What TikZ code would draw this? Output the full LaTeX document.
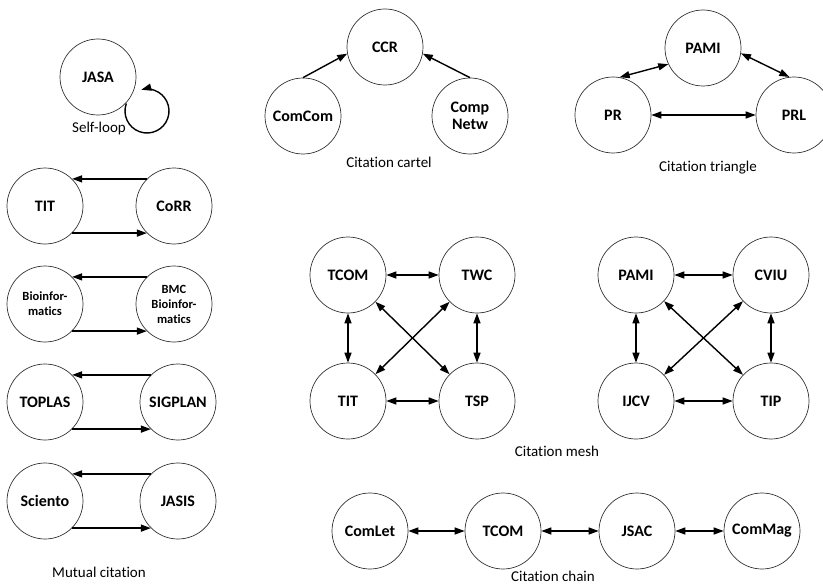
\documentclass[tikz,border=0pt]{standalone}
\usepackage{fontspec}
\setmainfont[Ligatures=NoCommon]{Carlito}
\usetikzlibrary{arrows.meta}
\begin{document}
\begin{tikzpicture}[x=1pt,y=-1pt,
 jnode/.style={circle,draw=black!80,line width=0.7pt,minimum size=76pt,inner sep=0pt,font=\bfseries\fontsize{16}{17}\selectfont,align=center},
 smalltext/.style={font=\bfseries\fontsize{12.5}{15}\selectfont},
 caption/.style={font=\fontsize{15}{16}\selectfont,inner sep=0pt},
 arr/.style={line width=1.4pt,-{Triangle[length=10pt,width=7pt]}},
 biarr/.style={line width=1.4pt,{Triangle[length=10pt,width=7pt]}-{Triangle[length=10pt,width=7pt]}}]
\useasboundingbox (0,0) rectangle (823,586);
\fill[white] (0,0) rectangle (823,586);

% Self-loop
\node[jnode] (jasa) at (98,77) {JASA};
\coordinate (loopc) at (147,111);
\draw[arr] (loopc) ++(160:22pt) arc[start angle=160, end angle=465, radius=22pt];
\node[caption] (lself) at (99,129) {Self-loop};

% Mutual citation
\node[jnode] (tit1) at (45,206) {TIT};
\node[jnode] (corr) at (174,206) {CoRR};
\draw[arr] (corr.135) -- (tit1.45);
\draw[arr] (tit1.-45) -- (corr.-135);

\node[jnode,smalltext] (bio) at (45,304) {Bioinfor-\\matics};
\node[jnode,smalltext] (bmc) at (174,304) {BMC\\Bioinfor-\\matics};
\draw[arr] (bmc.135) -- (bio.45);
\draw[arr] (bio.-45) -- (bmc.-135);

\node[jnode] (toplas) at (45,402) {TOPLAS};
\node[jnode] (sigplan) at (178,402) {SIGPLAN};
\draw[arr] (sigplan.135) -- (toplas.45);
\draw[arr] (toplas.-45) -- (sigplan.-135);

\node[jnode] (sciento) at (45,501) {Sciento};
\node[jnode] (jasis) at (178,501) {JASIS};
\draw[arr] (jasis.135) -- (sciento.45);
\draw[arr] (sciento.-45) -- (jasis.-135);
\node[caption] (lmutual) at (99,572) {Mutual citation};

% Citation cartel
\node[jnode] (ccr) at (385,47) {CCR};
\node[jnode] (comcom) at (303,116) {ComCom};
\node[jnode] (compnetw) at (470,116) {Comp\\Netw};
\draw[arr] (comcom.90) -- (ccr.190);
\draw[arr] (compnetw.90) -- (ccr.-10);
\node[caption] (lcartel) at (389,162) {Citation cartel};

% Citation triangle
\node[jnode] (pami1) at (703,48) {PAMI};
\node[jnode] (pr) at (613,115) {PR};
\node[jnode] (prl) at (794,115) {PRL};
\draw[biarr] (pami1.205) -- (pr.80);
\draw[biarr] (pami1.-8) -- (prl.97);
\draw[biarr] (pr) -- (prl);
\node[caption] (ltriangle) at (708,168) {Citation triangle};

% Citation mesh (left)
\node[jnode] (tcom1) at (348,275) {TCOM};
\node[jnode] (twc) at (477,275) {TWC};
\node[jnode] (tit2) at (348,401) {TIT};
\node[jnode] (tsp) at (477,401) {TSP};
\draw[biarr] (tcom1) -- (twc);
\draw[biarr] (tcom1) -- (tit2);
\draw[biarr] (twc) -- (tsp);
\draw[biarr] (tit2) -- (tsp);
\draw[biarr] (tcom1) -- (tsp);
\draw[biarr] (twc) -- (tit2);

% Citation mesh (right)
\node[jnode] (pami2) at (636,275) {PAMI};
\node[jnode] (cviu) at (771,275) {CVIU};
\node[jnode] (ijcv) at (636,401) {IJCV};
\node[jnode] (tip) at (771,401) {TIP};
\draw[biarr] (pami2) -- (cviu);
\draw[biarr] (pami2) -- (ijcv);
\draw[biarr] (cviu) -- (tip);
\draw[biarr] (ijcv) -- (tip);
\draw[biarr] (pami2) -- (tip);
\draw[biarr] (cviu) -- (ijcv);
\node[caption] (lmesh) at (557,451) {Citation mesh};

% Citation chain
\node[jnode] (comlet) at (370,531) {ComLet};
\node[jnode] (tcom2) at (503,531) {TCOM};
\node[jnode] (jsac) at (637,531) {JSAC};
\node[jnode] (commag) at (762,531) {ComMag};
\draw[biarr] (comlet) -- (tcom2);
\draw[biarr] (tcom2) -- (jsac);
\draw[biarr] (jsac) -- (commag);
\node[caption] (lchain) at (553,576) {Citation chain};
\end{tikzpicture}
\end{document}
